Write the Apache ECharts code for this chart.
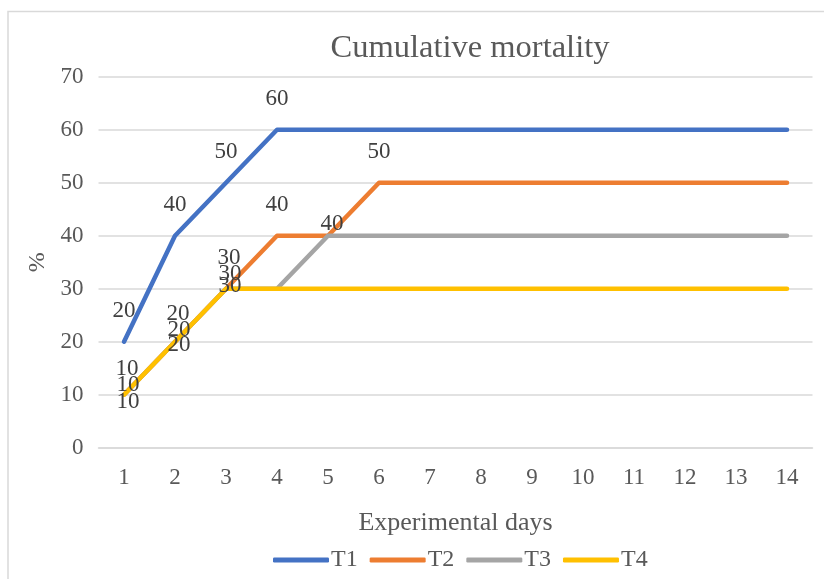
<!DOCTYPE html>
<html>
<head>
<meta charset="utf-8">
<script src="https://cdn.jsdelivr.net/npm/echarts@6/dist/echarts.min.js"></script>
<style>
  html, body { margin: 0; padding: 0; background: #fff; }
  #chart { width: 824px; height: 579px; }
</style>
</head>
<body>
<div id="chart"></div>
<script>
// Experimental days on the x axis
const days = ['1','2','3','4','5','6','7','8','9','10','11','12','13','14'];

// Cumulative mortality (%) per treatment
const t1 = [20, 40, 50, 60, 60, 60, 60, 60, 60, 60, 60, 60, 60, 60];
const t2 = [10, 20, 30, 40, 40, 50, 50, 50, 50, 50, 50, 50, 50, 50];
const t3 = [10, 20, 30, 30, 40, 40, 40, 40, 40, 40, 40, 40, 40, 40];
const t4 = [10, 20, 30, 30, 30, 30, 30, 30, 30, 30, 30, 30, 30, 30];

const seriesNames = ['T1', 'T2', 'T3', 'T4'];
const seriesData = [t1, t2, t3, t4];
const colors = ['#4472C4', '#ED7D31', '#A5A5A5', '#FFC000'];
// label offset from each point, per treatment
const labelOffsets = [[0, -31], [3, -28], [4, -12], [4, 3]];
// the three overlapping labels on the first days drift slightly apart
const dayShift = [2, 0, -3];

const FONT = '"Liberation Serif", "Times New Roman", serif';
const TEXT = '#595959';

// A value is labelled only on the day it first changes
function buildData(values, idx) {
  return values.map((v, i) => {
    const show = i === 0 || v !== values[i - 1];
    let off = labelOffsets[idx].slice();
    if (idx === 1 && i >= 3) off = [0, -31];
    else if (idx > 0 && i < 3) off[1] += dayShift[i] * (idx === 3 ? 2 : 1);
    return {
      value: v,
      label: {
        show: show,
        position: off,
        align: 'center',
        verticalAlign: 'middle',
        color: '#404040',
        fontFamily: FONT,
        fontSize: 23
      }
    };
  });
}

const chart = echarts.init(document.getElementById('chart'), null, { renderer: 'canvas' });

chart.setOption({
  animation: false,
  backgroundColor: '#fff',
  textStyle: { fontFamily: FONT },
  graphic: [{
    type: 'rect',
    shape: { x: 8, y: 11.5, width: 830, height: 600 },
    style: { fill: 'none', stroke: '#d9d9d9', lineWidth: 1.5 },
    silent: true,
    z: -10
  }],
  title: {
    text: 'Cumulative mortality',
    left: 465,
    top: 27,
    textAlign: 'center',
    textStyle: { fontFamily: FONT, fontSize: 32.5, fontWeight: 'normal', color: TEXT }
  },
  legend: {
    data: seriesNames,
    left: 268,
    top: 543,
    itemWidth: 56,
    itemHeight: 5,
    itemGap: 12,
    icon: 'roundRect',
    textStyle: { fontFamily: FONT, fontSize: 24, color: TEXT, padding: [0, 0, 0, -3] }
  },
  grid: { left: 98.5, right: 11.5, top: 76.7, bottom: 131.3, containLabel: false },
  xAxis: {
    type: 'category',
    data: days,
    boundaryGap: true,
    name: 'Experimental days',
    nameLocation: 'middle',
    nameGap: 62,
    nameTextStyle: { fontFamily: FONT, fontSize: 26, color: TEXT },
    axisLine: { show: true, lineStyle: { color: '#d9d9d9', width: 1.5 } },
    axisTick: { show: false },
    axisLabel: { fontFamily: FONT, fontSize: 23, color: TEXT, margin: 19 }
  },
  yAxis: {
    type: 'value',
    min: 0,
    max: 70,
    interval: 10,
    name: '%',
    nameLocation: 'middle',
    nameGap: 42,
    nameRotate: 90,
    nameTextStyle: { fontFamily: FONT, fontSize: 24, color: TEXT },
    axisLine: { show: false },
    axisTick: { show: false },
    axisLabel: { fontFamily: FONT, fontSize: 23, color: TEXT, margin: 15 },
    splitLine: { lineStyle: { color: '#d9d9d9', width: 1.5 } }
  },
  series: seriesNames.map((name, i) => ({
    name: name,
    type: 'line',
    data: buildData(seriesData[i], i),
    symbol: 'circle',
    symbolSize: 0.1,
    showSymbol: true,
    color: colors[i],
    itemStyle: { color: colors[i] },
    lineStyle: { width: 4.5, color: colors[i], cap: 'round', join: 'round' },
    labelLayout: { hideOverlap: false }
  }))
});
</script>
</body>
</html>
